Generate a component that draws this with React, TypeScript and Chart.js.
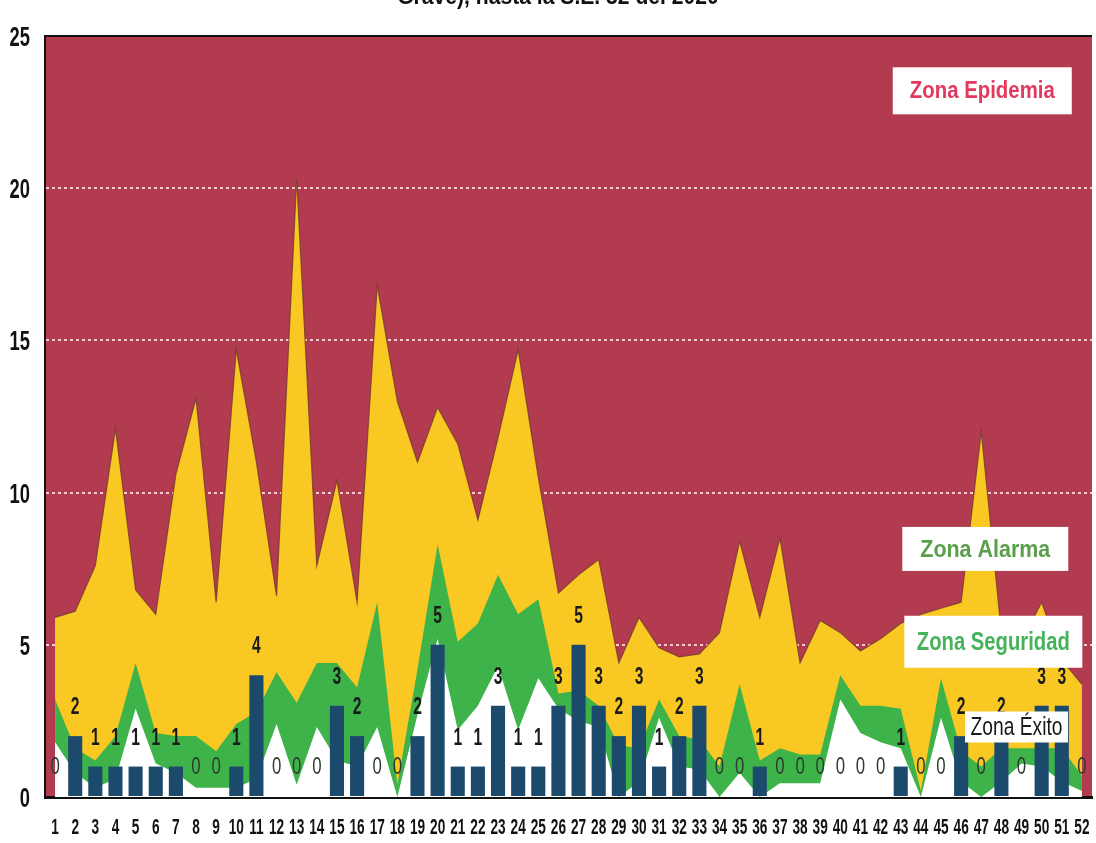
import React, { useEffect, useRef } from 'react';
import { Chart, registerables } from 'chart.js';

Chart.register(...registerables);

// Semanas epidemiológicas
const weeks = ['1','2','3','4','5','6','7','8','9','10','11','12','13','14','15','16','17','18','19','20','21','22','23','24','25','26','27','28','29','30','31','32','33','34','35','36','37','38','39','40','41','42','43','44','45','46','47','48','49','50','51','52'];

// Casos 2020 (barras)
const casos = [0,2,1,1,1,1,1,0,0,1,4,0,0,0,3,2,0,0,2,5,1,1,3,1,1,3,5,3,2,3,1,2,3,0,0,1,0,0,0,0,0,0,1,0,0,2,0,2,0,3,3,0];

// Límite superior Zona Éxito
const exito = [1.8,0.8,0.3,0.6,2.9,1.1,0.8,0.3,0.3,0.3,0.6,2.4,0.4,2.3,1.2,1.0,2.3,0,2.7,5.2,2.2,3.0,4.3,2.2,3.9,2.9,2.5,2.3,0,0.5,2.6,1.0,0.9,0,0.8,0,0.45,0.45,0.45,3.2,2.1,1.8,1.6,0,2.6,0.5,0,0.5,1.1,1.0,0.5,0.2];

// Límite superior Zona Seguridad
const seguridad = [3.2,1.6,1.2,2.0,4.4,2.1,2.0,2.0,1.5,2.4,2.8,4.1,3.1,4.4,4.4,3.6,6.4,0.4,4.2,8.3,5.1,5.7,7.3,6.0,6.5,3.4,3.5,3.0,1.7,1.6,3.2,2.0,1.9,1.0,3.7,1.2,1.6,1.4,1.4,4.0,3.0,3.0,2.9,0.2,3.9,1.5,1.0,1.6,1.6,1.6,1.6,0.7];

// Límite superior Zona Alarma
const alarma = [5.9,6.1,7.6,12.1,6.8,6.0,10.6,13.1,6.4,14.7,11.0,6.6,20.3,7.6,10.4,6.4,16.8,13.0,11.0,12.8,11.6,9.1,11.8,14.7,10.5,6.7,7.3,7.8,4.4,5.9,4.9,4.6,4.7,5.4,8.4,5.9,8.5,4.4,5.8,5.4,4.8,5.2,5.7,6.0,6.2,6.4,12.0,5.4,5.1,6.4,4.5,3.7];

const Y_MIN = 0;
const Y_MAX = 25;
const Y_STEP = 5;

const SANS = "'Liberation Sans', Arimo, Arial, sans-serif";
const MAROON = '#b23b50';
const YELLOW = '#f9c823';
const GREEN = '#3db34a';
const BAR = '#1c4a6c';

const zoneBoxes = [
  { text: 'Zona Epidemia', color: '#e3395f', bold: true, idx: 46.05, val: 23.2, w: 179, h: 47, size: 23, tw: 145 },
  { text: 'Zona Alarma', color: '#5a9f4a', bold: true, idx: 46.2, val: 8.15, w: 166, h: 44, size: 24, tw: 130 },
  { text: 'Zona Seguridad', color: '#45b35a', bold: true, idx: 46.6, val: 5.1, w: 178, h: 52, size: 25, tw: 153 },
  { text: 'Zona Éxito', color: '#1a1a1a', bold: false, idx: 47.75, val: 2.3, w: 103, h: 31, size: 25, tw: 92 },
];

function narrowText(ctx: any, text: string, x: number, y: number, font: string, color: string, align: string, baseline: string, sx: number) {
  ctx.save();
  ctx.translate(x, y);
  ctx.scale(sx, 1);
  ctx.font = font;
  ctx.fillStyle = color;
  ctx.textAlign = align;
  ctx.textBaseline = baseline;
  ctx.fillText(text, 0, 0);
  ctx.restore();
}

const bgPlugin = {
  id: 'bgPlugin',
  beforeDraw(chart: any) {
    const { ctx, chartArea } = chart;
    const { left, top, right, bottom } = chartArea;
    ctx.save();
    ctx.fillStyle = MAROON;
    ctx.fillRect(left, top, right - left, bottom - top);
    ctx.restore();
  },
  afterDraw(chart: any) {
    const { ctx, chartArea } = chart;
    ctx.save();
    ctx.strokeStyle = '#111';
    ctx.lineWidth = 2;
    ctx.beginPath();
    ctx.moveTo(chartArea.left, chartArea.top);
    ctx.lineTo(chartArea.right, chartArea.top);
    ctx.stroke();
    ctx.restore();
    // axis tick labels (condensed look)
    const xs = chart.scales.x;
    const ys = chart.scales.y;
    (chart.data.labels as string[]).forEach((lab, i) => {
      const px = xs.getPixelForTick(i);
      narrowText(ctx, lab, px, chartArea.bottom + 37, `bold 22px ${SANS}`, '#111', 'center', 'alphabetic', 0.62);
    });
    ys.ticks.forEach((t: any) => {
      const py = ys.getPixelForValue(t.value);
      narrowText(ctx, String(t.value), chartArea.left - 15, py + 10, `bold 27px ${SANS}`, '#111', 'right', 'alphabetic', 0.68);
    });
  },
};

const labelPlugin = {
  id: 'labelPlugin',
  afterDatasetsDraw(chart: any) {
    const { ctx } = chart;
    const meta = chart.getDatasetMeta(0);
    meta.data.forEach((el: any, i: number) => {
      const v = casos[i];
      if (v === 0) {
        narrowText(ctx, '0', el.x, el.y - 23, `24px ${SANS}`, '#2e3d30', 'center', 'alphabetic', 0.7);
      } else {
        narrowText(ctx, String(v), el.x, el.y - 22, `bold 24px ${SANS}`, '#1a1a1a', 'center', 'alphabetic', 0.65);
      }
    });
    const xs = chart.scales.x;
    const ys = chart.scales.y;
    zoneBoxes.forEach((b) => {
      const px = xs.getPixelForValue(b.idx);
      const py = ys.getPixelForValue(b.val);
      ctx.save();
      ctx.fillStyle = '#ffffff';
      ctx.fillRect(px - b.w / 2, py - b.h / 2, b.w, b.h);
      const font = `${b.bold ? 'bold ' : ''}${b.size}px ${SANS}`;
      ctx.font = font;
      const natural = ctx.measureText(b.text).width;
      ctx.restore();
      narrowText(ctx, b.text, px, py + 1, font, b.color, 'center', 'middle', b.tw / natural);
    });
  },
};

export default function App() {
  const ref = useRef<HTMLCanvasElement | null>(null);

  useEffect(() => {
    if (!ref.current) return;
    const chart = new Chart(ref.current, {
      type: 'bar',
      data: {
        labels: weeks,
        datasets: [
          {
            type: 'bar',
            label: 'Casos',
            data: casos,
            backgroundColor: BAR,
            barPercentage: 0.7,
            categoryPercentage: 1,
            order: 0,
          } as any,
          {
            type: 'line',
            label: 'Éxito',
            data: exito,
            backgroundColor: '#ffffff',
            borderWidth: 0,
            pointRadius: 0,
            fill: 'origin',
            tension: 0,
            order: 1,
          } as any,
          {
            type: 'line',
            label: 'Seguridad',
            data: seguridad,
            backgroundColor: GREEN,
            borderWidth: 0,
            pointRadius: 0,
            fill: 'origin',
            tension: 0,
            order: 2,
          } as any,
          {
            type: 'line',
            label: 'Alarma',
            data: alarma,
            backgroundColor: YELLOW,
            borderColor: 'rgba(110,55,40,0.75)',
            borderWidth: 1.2,
            pointRadius: 0,
            fill: 'origin',
            tension: 0,
            order: 3,
          } as any,
        ],
      },
      options: {
        responsive: false,
        animation: false,
        devicePixelRatio: 1,
        layout: { padding: { top: 36, right: 4, left: 0, bottom: 0 } },
        plugins: {
          legend: { display: false },
          title: { display: false },
          tooltip: { enabled: false },
        },
        scales: {
          x: {
            offset: true,
            grid: { display: false, drawTicks: false },
            border: { display: true, color: '#111', width: 3 },
            ticks: { display: false, autoSkip: false, maxRotation: 0, minRotation: 0 },
            afterFit: (s: any) => { s.height = 46; },
          },
          y: {
            min: Y_MIN,
            max: Y_MAX,
            ticks: { stepSize: Y_STEP, display: false },
            grid: {
              drawTicks: false,
              lineWidth: 2,
              color: (c: any) => {
                const v = c.tick ? c.tick.value : -1;
                return v > 0 && v < Y_MAX ? 'rgba(255,232,232,0.85)' : 'rgba(0,0,0,0)';
              },
            },
            border: { display: true, color: '#111', width: 2, dash: [3, 3] },
            afterFit: (s: any) => { s.width = 45; },
          },
        },
      } as any,
      plugins: [bgPlugin, labelPlugin],
    });
    return () => chart.destroy();
  }, []);

  return (
    <div style={{ position: 'fixed', left: 0, top: 0, width: 1096, height: 843, background: '#fff', overflow: 'hidden' }}>
      <canvas ref={ref} width={1096} height={843} style={{ display: 'block', width: 1096, height: 843 }} />
      <div style={{ position: 'absolute', left: 0, top: 0, width: 1096, height: 9, overflow: 'hidden' }}>
        <div style={{ position: 'absolute', left: 0, width: 1096, top: -16, textAlign: 'center', fontFamily: SANS, fontWeight: 'bold', fontSize: 24, lineHeight: '24px', color: '#111', transform: 'translateX(10px) scaleX(0.88)', transformOrigin: '548px 0', whiteSpace: 'nowrap' }}>
          Grave), hasta la S.E. 52 del 2020
        </div>
      </div>
    </div>
  );
}
